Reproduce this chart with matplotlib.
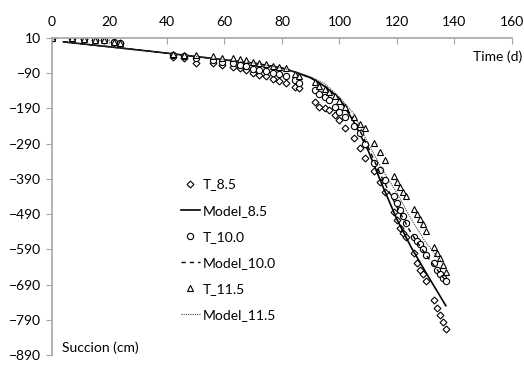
import matplotlib.pyplot as plt

plt.rcParams['font.family'] = ['Lato', 'DejaVu Sans']

# sampling times (days), shared by the three measured series
t_obs = [0, 7, 11, 15, 18, 21.5, 23.5,
         42, 46, 50, 56, 59, 63, 65.5, 67.5, 70, 72, 74.5, 77, 79, 81.5,
         84.5, 86, 91.5, 93, 95, 96.5, 98.5, 100, 102, 105, 107, 109,
         112, 114, 116, 119, 120, 121, 122, 123,
         126, 127, 128, 129, 130, 133, 134, 135, 136, 137]

t_85 = [10, 9, 8, 5, 4, -2, -5,
        -43, -48, -60, -62, -67, -71, -76, -82, -90, -95, -98, -107, -111, -117,
        -129, -132, -171, -185, -190, -195, -208, -223, -245, -275, -303, -330,
        -369, -398, -426, -483, -506, -530, -545, -554,
        -601, -629, -648, -661, -679, -733, -757, -776, -795, -815]

t_100 = [10, 9, 8, 5, 4, -2, -5,
         -38, -41, -48, -52, -57, -62, -67, -69, -79, -82, -85, -90, -92, -99,
         -109, -118, -137, -150, -158, -166, -185, -199, -213, -240, -260, -291,
         -344, -364, -393, -440, -459, -478, -495, -515,
         -555, -565, -575, -590, -605, -630, -648, -660, -670, -680]

t_115 = [10, 9, 8, 5, 4, -2, -5,
         -35, -37, -38, -41, -46, -47, -51, -53, -59, -61, -63, -69, -71, -75,
         -92, -98, -115, -125, -135, -143, -155, -168, -185, -213, -234, -246,
         -287, -313, -336, -383, -398, -412, -426, -440,
         -476, -489, -504, -518, -539, -584, -600, -615, -635, -655]

# model curves
t_mod = [4, 20, 40, 60, 70, 80, 85, 90, 95, 100, 105, 110, 115, 120, 125, 130, 137]
m_85 = [-1, -15, -33, -52, -61, -75, -88, -103, -128, -162, -228, -310, -410, -505, -585, -655, -750]
m_100 = [-1, -15, -33, -52, -61, -75, -88, -103, -127, -162, -220, -300, -390, -470, -545, -605, -680]
m_115 = [-1, -15, -33, -52, -61, -75, -87, -100, -120, -158, -205, -290, -365, -430, -505, -570, -640]

fig = plt.figure(figsize=(5.24, 3.67), dpi=100)
ax = fig.add_axes([0.0992, 0.0327, 0.8778, 0.8638])

mk = dict(linestyle='none', markerfacecolor='white', markeredgecolor='black', markeredgewidth=0.8)
ax.plot(t_obs, t_85, marker='D', markersize=3.5, label='T_8.5', **mk)
ax.plot(t_mod, m_85, color='black', lw=1.2, label='Model_8.5')
ax.plot(t_obs, t_100, marker='o', markersize=4.5, label='T_10.0', **mk)
ax.plot(t_mod, m_100, color='black', lw=1.0, linestyle=(0, (3, 3)), label='Model_10.0')
ax.plot(t_obs, t_115, marker='^', markersize=5, label='T_11.5', **mk)
ax.plot(t_mod, m_115, color='#404040', lw=0.8, linestyle=(0, (1, 1)), label='Model_11.5')

ax.set_xlim(0, 160)
ax.set_ylim(-890, 10)
ax.set_xticks(range(0, 161, 20))
ax.set_yticks(range(10, -891, -100))

for s in ['right', 'bottom']:
    ax.spines[s].set_visible(False)
for s in ['left', 'top']:
    ax.spines[s].set_color('#a6a6a6')
    ax.spines[s].set_linewidth(1.2)

ax.xaxis.set_ticks_position('top')
ax.tick_params(axis='x', direction='in', length=4, color='#a6a6a6', labelsize=10, pad=7)
ax.tick_params(axis='y', direction='out', length=4, color='#a6a6a6', labelsize=10, pad=4)

fig.text(522 / 524, 1 - 57 / 367, 'Time (d)', ha='right', va='center', fontsize=10)
ax.text(0.022, 0.022, 'Succion (cm)', transform=ax.transAxes, ha='left', va='center', fontsize=10)

ax.legend(loc='upper left', bbox_to_anchor=(168 / 524, 1 - 166 / 367), bbox_transform=fig.transFigure,
          frameon=False, fontsize=10, labelspacing=1.02, handlelength=1.4, handletextpad=0.2)

fig.savefig('out.png', dpi=100)
